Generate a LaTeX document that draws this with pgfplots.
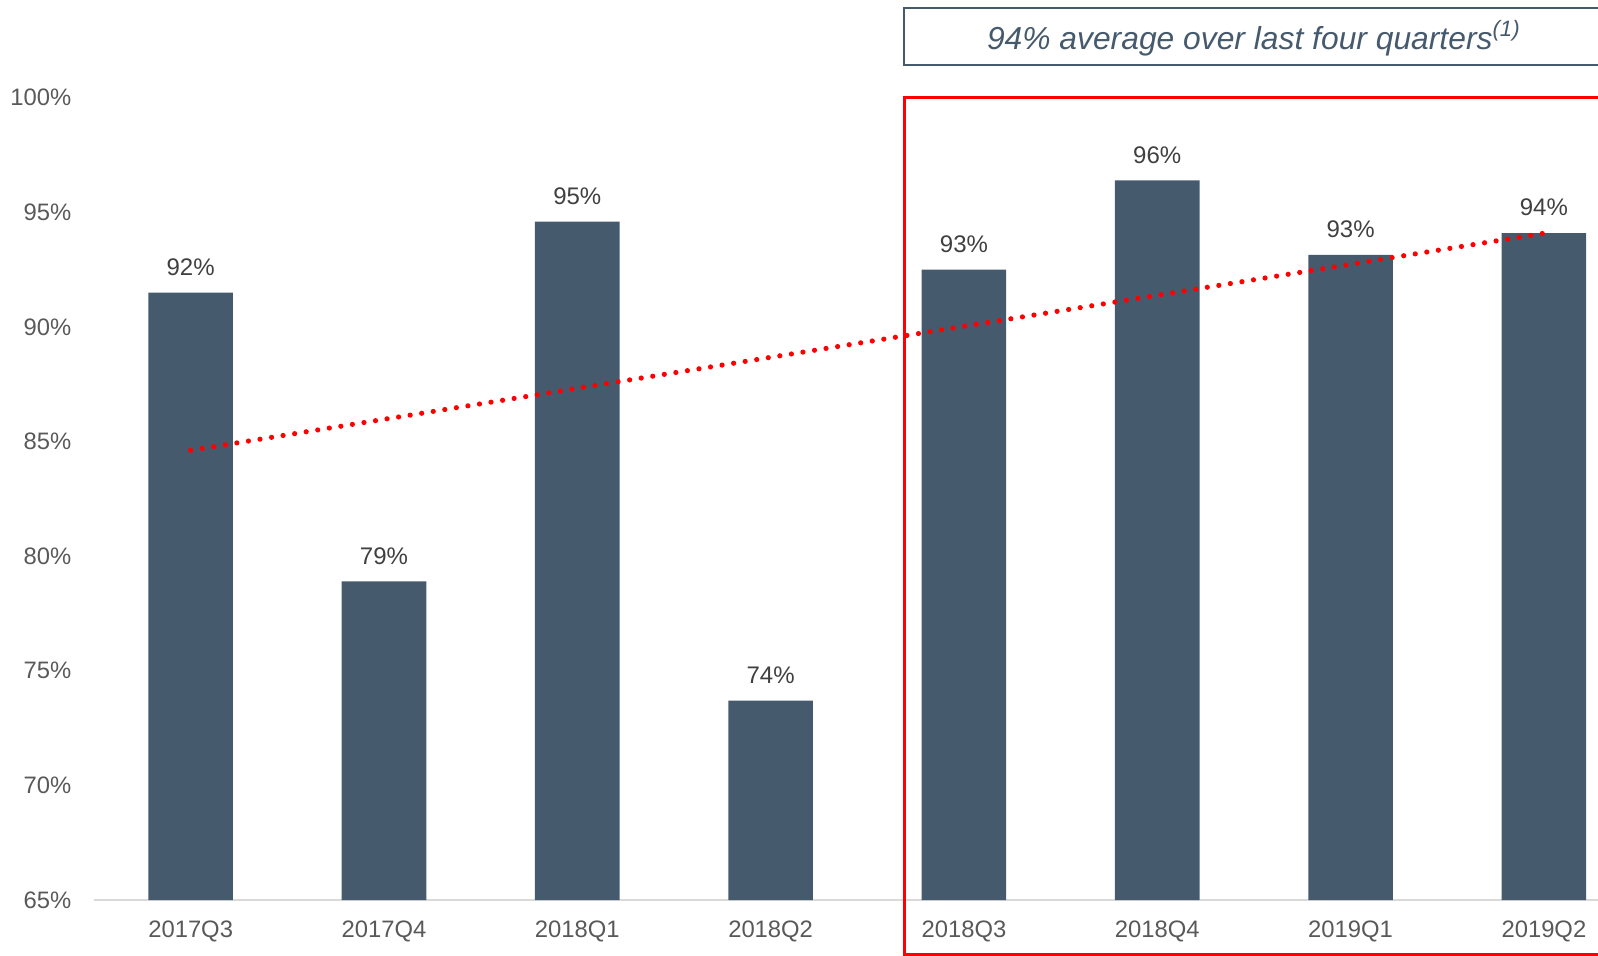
\documentclass[border=0pt]{standalone}
\usepackage{pgfplots}
\pgfplotsset{compat=1.18}
\usepackage{pgfplotstable}
\usepackage{fontspec}
\setmainfont{Liberation Sans}
\definecolor{slate}{HTML}{465A6E}
\definecolor{ticktxt}{HTML}{595959}
\definecolor{lbltxt}{HTML}{404040}
\definecolor{basegray}{HTML}{D9D9D9}
\pgfplotstableread{
x y label
0 91.5 92
1 78.9 79
2 94.6 95
3 73.7 74
4 92.5 93
5 96.4 96
6 93.15 93
7 94.1 94
}\bars
\pgfplotstableread{
x y
0 84.62
7 94.09
}\trend
\begin{document}
\begin{tikzpicture}[font=\fontsize{11.9}{14}\selectfont]
\begin{axis}[
  at={(47pt,27.5pt)}, anchor=south west,
  scale only axis, width=752pt, height=401.1pt,
  xmin=-0.5, xmax=7.28, ymin=65, ymax=100,
  clip=false,
  axis line style={draw=none},
  tick style={draw=none},
  xtick={0,...,7},
  xticklabels={2017Q3,2017Q4,2018Q1,2018Q2,2018Q3,2018Q4,2019Q1,2019Q2},
  ytick={65,70,...,100},
  yticklabels={65\%,70\%,75\%,80\%,85\%,90\%,95\%,100\%},
  yticklabel style={anchor=east, inner sep=0pt, xshift=-11.2pt, text=ticktxt},
  xticklabel style={anchor=center, inner sep=0pt, yshift=-15.5pt, text=ticktxt},
  /pgf/number format/assume math mode=true,
]
\draw[basegray, line width=1.3pt] (axis cs:-0.5,65) -- (axis cs:7.28,65);
\addplot[ybar, bar width=42.3pt, fill=slate, draw=none,
  point meta=explicit symbolic,
  nodes near coords={\pgfplotspointmeta\%},
  every node near coord/.append style={anchor=base, yshift=8.6pt, inner sep=0pt, text=lbltxt, font=\fontsize{12}{14}\selectfont}]
  table[x=x, y=y, meta=label] {\bars};
\addplot[red, line width=2.6pt, line cap=round, dash pattern=on 0pt off 5.85pt, mark=none]
  table[x=x, y=y] {\trend};
\draw[red, line width=1.5pt] (axis cs:7.6,100) -- (axis cs:3.69,100) -- (axis cs:3.69,62.64) -- (axis cs:7.6,62.64);
\draw[slate, line width=0.8pt] (axis cs:7.31,101.43) -- (axis cs:3.69,101.43) -- (axis cs:3.69,103.92) -- (axis cs:7.31,103.92) -- cycle;
\node[text=slate, font=\fontsize{15.9}{18}\selectfont\itshape, yshift=-1pt] at (axis cs:5.5,102.68) {94\% average over last four quarters\textsuperscript{(1)}};
\end{axis}
\pgfresetboundingbox
\useasboundingbox (0,0) rectangle (799pt,477.5pt);
\end{tikzpicture}
\end{document}
